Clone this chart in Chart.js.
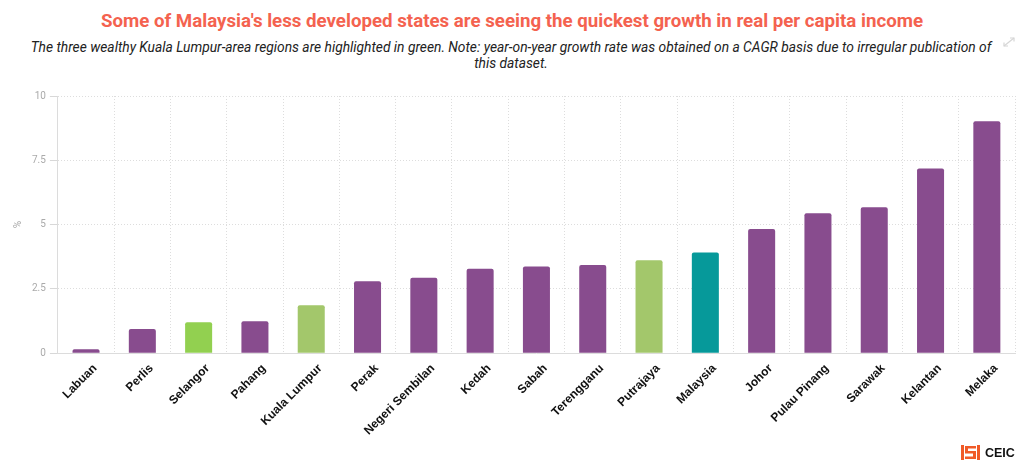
<!DOCTYPE html>
<html>
<head>
<meta charset="utf-8">
<script src="https://cdn.jsdelivr.net/npm/chart.js@4"></script>
<style>
  body {
    margin: 0;
    width: 1024px;
    height: 469px;
    background: #fff;
    overflow: hidden;
    position: relative;
    font-family: Roboto, "Liberation Sans", sans-serif;
  }
  .title {
    position: absolute;
    top: 10px;
    left: 0;
    width: 1024px;
    text-align: center;
    font-weight: bold;
    font-size: 18.7px;
    color: #f4624f;
  }
  .subtitle {
    position: absolute;
    top: 39px;
    left: 28px;
    width: 966px;
    text-align: center;
    font-style: italic;
    font-size: 13.8px;
    line-height: 16px;
    color: #222;
  }
  .chartBox {
    position: absolute;
    top: 80px;
    left: 0;
    width: 1024px;
    height: 366px;
  }
  .logo {
    position: absolute;
    left: 961px;
    top: 445px;
    display: flex;
    align-items: center;
    font-family: "Liberation Sans", Arial, sans-serif;
    font-weight: bold;
    font-size: 12.5px;
    color: #111;
  }
  .expand {
    position: absolute;
    left: 1001px;
    top: 35px;
  }
</style>
</head>
<body>
<div class="title">Some of Malaysia's less developed states are seeing the quickest growth in real per capita income</div>
<div class="subtitle">The three wealthy Kuala Lumpur-area regions are highlighted in green. Note: year-on-year growth rate was obtained on a CAGR basis due to irregular publication of this dataset.</div>

<svg class="expand" width="16" height="14" viewBox="0 0 16 14">
  <path d="M3 11 L13 3" stroke="#d6d6d6" stroke-width="1.2"/>
  <path d="M9 3 L13 3 L13 6.5" stroke="#d6d6d6" stroke-width="1.2" fill="none"/>
  <path d="M3 7.5 L3 11 L7 11" stroke="#d6d6d6" stroke-width="1.2" fill="none"/>
</svg>

<div class="chartBox"><canvas id="growthChart"></canvas></div>

<div class="logo">
  <svg width="19" height="15" viewBox="0 0 19 15">
    <rect x="0" y="0" width="3" height="15" fill="#f05a28"/>
    <rect x="16" y="0" width="3" height="15" fill="#f05a28"/>
    <path d="M4 1 L15 1 L15 3.5 L7 3.5 L7 6 L15 6 L15 14 L4 14 L4 11.5 L12 11.5 L12 8.5 L4 8.5 Z" fill="#f05a28"/>
  </svg>
  <span style="margin-left:5px">CEIC</span>
</div>

<script>
const regions = [
  "Labuan", "Perlis", "Selangor", "Pahang", "Kuala Lumpur", "Perak",
  "Negeri Sembilan", "Kedah", "Sabah", "Terengganu", "Putrajaya",
  "Malaysia", "Johor", "Pulau Pinang", "Sarawak", "Kelantan", "Melaka"
];

const growthRates = [
  0.16, 0.95, 1.21, 1.25, 1.87, 2.80,
  2.94, 3.29, 3.37, 3.43, 3.62,
  3.92, 4.83, 5.44, 5.68, 7.18, 9.02
];

const barColors = [
  "#884c8e", "#884c8e", "#92d050", "#884c8e", "#a3c76b", "#884c8e",
  "#884c8e", "#884c8e", "#884c8e", "#884c8e", "#a3c76b",
  "#06999a", "#884c8e", "#884c8e", "#884c8e", "#884c8e", "#884c8e"
];

const yTicks = [0, 2.5, 5, 7.5, 10];

new Chart(document.getElementById("growthChart"), {
  type: "bar",
  data: {
    labels: regions,
    datasets: [{
      label: "Real per capita income growth",
      data: growthRates,
      backgroundColor: barColors,
      borderRadius: { topLeft: 2, topRight: 2 },
      borderSkipped: "bottom",
      categoryPercentage: 1,
      barPercentage: 0.48
    }]
  },
  options: {
    responsive: true,
    maintainAspectRatio: false,
    animation: false,
    layout: {
      padding: { top: 16, right: 9, left: 8, bottom: 0 }
    },
    plugins: {
      legend: { display: false },
      tooltip: { enabled: false }
    },
    scales: {
      x: {
        grid: {
          offset: true,
          color: "#dddddd",
          drawTicks: false
        },
        border: {
          display: true,
          color: "#dcdcdc",
          dash: [1, 2]
        },
        ticks: {
          color: "#111",
          padding: 8,
          labelOffset: 9,
          maxRotation: 45,
          minRotation: 45,
          font: { family: "'Liberation Sans', Arial, sans-serif", weight: "bold", size: 12 }
        }
      },
      y: {
        min: 0,
        max: 10,
        afterBuildTicks: axis => {
          axis.ticks = yTicks.map(v => ({ value: v }));
        },
        grid: {
          color: "#dddddd",
          tickLength: 8,
          tickColor: "#d8d8d8",
          tickBorderDash: []
        },
        border: {
          display: true,
          color: "#dcdcdc",
          dash: [1, 2]
        },
        ticks: {
          color: "#aaaaaa",
          padding: 4,
          font: { family: "Roboto, sans-serif", size: 10 }
        },
        title: {
          display: true,
          text: "%",
          color: "#aaaaaa",
          padding: { top: 4, bottom: 4 },
          font: { family: "Roboto, sans-serif", size: 10 }
        }
      }
    }
  }
});
</script>
</body>
</html>
